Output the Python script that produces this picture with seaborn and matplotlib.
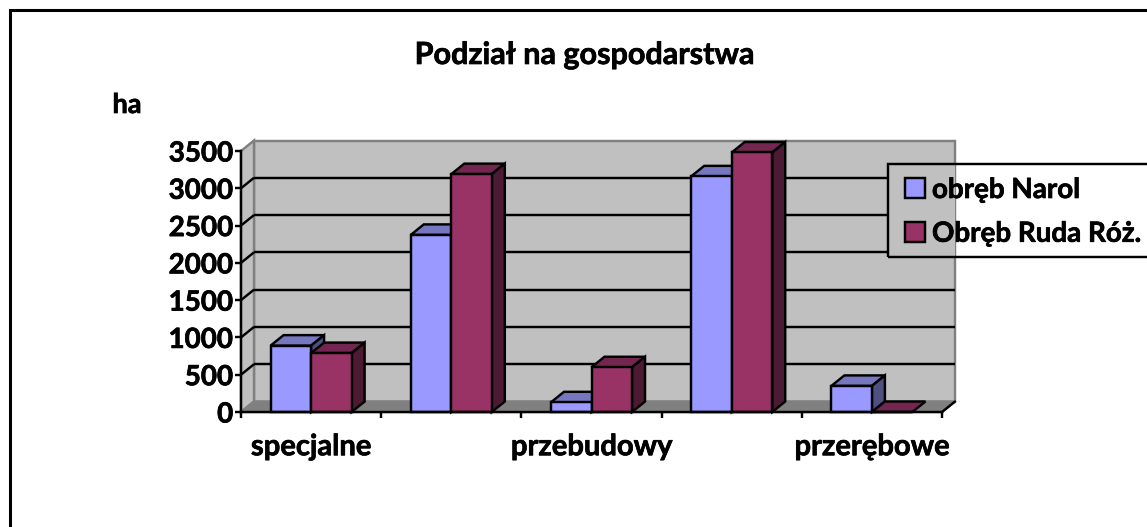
import matplotlib
matplotlib.use("Agg")
import matplotlib.pyplot as plt
import matplotlib.patheffects as pe
from matplotlib.lines import Line2D
from matplotlib.patches import Polygon, Rectangle
import pandas as pd
import seaborn as sns

categories = ["specjalne", "kat2", "przebudowy", "kat4", "przerębowe"]
tick_labels = ["specjalne", "", "przebudowy", "", "przerębowe"]
series_names = ["obręb Narol", "Obręb Ruda Róż."]
narol = [890, 2375, 130, 3160, 350]
ruda = [790, 3190, 600, 3480, 0]
y_ticks = [0, 500, 1000, 1500, 2000, 2500, 3000, 3500]

W, H, DPI = 1147, 527, 100
FS = 20
BLACK = "#000000"
WALL = "#C0C0C0"
WALL_EDGE = "#808080"
FRONT = ["#9999FF", "#993366"]
TOP = ["#7777C0", "#732650"]
SIDE = ["#505080", "#4D1A33"]
LW = 1.75
HEAVY = [pe.withStroke(linewidth=0.5, foreground=BLACK)]

sns.set_theme(style="white")
plt.rcParams["font.family"] = ["Lato", "DejaVu Sans"]
plt.rcParams["font.weight"] = "bold"

def fx(px): return px / W
def fy(py): return 1 - py / H

fig = plt.figure(figsize=(W / DPI, H / DPI), dpi=DPI, facecolor="white")
# outer chart border: only its top and left edges fall inside the picture
fig.add_artist(Line2D([fx(10), fx(10), 1], [0, fy(9.5), fy(9.5)], transform=fig.transFigure,
                      color=BLACK, lw=2.2, solid_joinstyle="miter"))

L, R, T, B = 241, 942, 151, 412
ax = fig.add_axes([fx(L), fy(B), fx(R - L), (B - T) / H])
ax.set_facecolor("none")

df = pd.DataFrame({
    "cat": categories * 2,
    "val": narol + ruda,
    "series": [series_names[0]] * 5 + [series_names[1]] * 5,
})
sns.barplot(data=df, x="cat", y="val", hue="series", palette=FRONT, saturation=1,
            width=0.578, gap=0, edgecolor=BLACK, linewidth=LW, legend=False, ax=ax)
ax.set_xlim(-0.5, 4.5)
ax.set_ylim(0, 3500)

# depth of the pseudo-3D projection, in data units
DX = 13 / ((R - L) / 5)
DY = 10.5 / ((B - T) / 3500)
x0, x1 = -0.5, 4.5
ytop = y_ticks[-1]

def poly(pts, fc, ec, z, lw=LW):
    ax.add_patch(Polygon(pts, closed=True, fc=fc, ec=ec, lw=lw, zorder=z,
                         clip_on=False, joinstyle="miter"))

bars = [b for b in ax.patches if isinstance(b, Rectangle)][:10]

# walls and floor
poly([(x0 + DX, DY), (x1 + DX, DY), (x1 + DX, ytop + DY), (x0 + DX, ytop + DY)], WALL, WALL_EDGE, 0.1)
poly([(x0, 0), (x0 + DX, DY), (x0 + DX, ytop + DY), (x0, ytop)], WALL, WALL_EDGE, 0.1)
poly([(x0, 0), (x1, 0), (x1 + DX, DY), (x0 + DX, DY)], WALL_EDGE, WALL_EDGE, 0.15)

# gridlines on the back and side wall
for v in y_ticks[1:-1]:
    ax.plot([x0 + DX, x1 + DX], [v + DY, v + DY], color=BLACK, lw=LW, zorder=0.2,
            clip_on=False, solid_capstyle="butt")
    ax.plot([x0, x0 + DX], [v, v + DY], color=BLACK, lw=LW, zorder=0.2,
            clip_on=False, solid_capstyle="butt")
ax.plot([x1, x1 + DX], [0, DY], color=BLACK, lw=LW, zorder=0.3, clip_on=False)

# 3D faces for each bar
for i, b in enumerate(bars):
    s = i // 5
    c = i % 5
    z = 2 + c + s * 0.3
    xa, xb = b.get_x(), b.get_x() + b.get_width()
    h = b.get_height()
    b.set_zorder(z + 0.02)
    b.set_clip_on(False)
    b.set_joinstyle("miter")
    poly([(xa, h), (xb, h), (xb + DX, h + DY), (xa + DX, h + DY)], TOP[s], BLACK, z)
    if h > 0:
        poly([(xb, 0), (xb + DX, DY), (xb + DX, h + DY), (xb, h)], SIDE[s], BLACK, z + 0.01)

# axes, ticks, labels
for name, sp in ax.spines.items():
    sp.set_visible(name in ("left", "bottom"))
    sp.set_color(BLACK)
    sp.set_linewidth(LW)
    sp.set_zorder(20)
ax.set_yticks(y_ticks)
ax.set_yticklabels([str(v) for v in y_ticks], fontsize=FS, fontweight="bold", color=BLACK,
                   path_effects=HEAVY)
ax.set_xticks([i - 0.5 for i in range(6)])
ax.set_xticklabels([])
ax.set_xticks(range(5), minor=True)
ax.set_xticklabels(tick_labels, minor=True, fontsize=21, fontweight="bold", color=BLACK,
                   path_effects=HEAVY)
ax.tick_params(axis="y", length=4.5, width=LW, color=BLACK, pad=1, left=True)
ax.tick_params(axis="x", which="major", length=4.5, width=LW, color=BLACK, bottom=True)
ax.tick_params(axis="x", which="minor", length=0, pad=16)
ax.set_xlabel("")
ax.set_ylabel("")

fig.text(fx(584), fy(55), "Podział na gospodarstwa", ha="center", va="center",
         fontsize=22, fontweight="bold", color=BLACK, path_effects=HEAVY)
fig.text(fx(127), fy(105), "ha", ha="center", va="center",
         fontsize=19.5, fontweight="bold", color=BLACK, path_effects=HEAVY)

# legend box: transparent on the wall, hiding the gridlines behind it
LX, LT, LB = 888, 164, 257
wall_right = ax.transData.transform((x1 + DX, 0))[0]
fig.add_artist(Rectangle((fx(LX), fy(LB)), fx(wall_right - LX), fy(LT) - fy(LB),
                         transform=fig.transFigure, fc=WALL, ec="none", zorder=5))
fig.add_artist(Rectangle((fx(LX), fy(LB)), fx(W + 10 - LX), fy(LT) - fy(LB),
                         transform=fig.transFigure, fc="none", ec=BLACK, lw=LW, zorder=6))
handles = [Rectangle((0, 0), 1, 1, fc=FRONT[k], ec=BLACK, lw=LW) for k in range(2)]
leg = fig.legend(handles, series_names, loc="upper left",
                 bbox_to_anchor=(fx(905), fy(177)), bbox_transform=fig.transFigure,
                 frameon=False, fontsize=20, borderpad=0, borderaxespad=0,
                 handlelength=0.72, handleheight=0.72, handletextpad=0.25, labelspacing=0.64)
leg.set_zorder(7)
for t in leg.get_texts():
    t.set_fontweight("bold")
    t.set_color(BLACK)
    t.set_path_effects(HEAVY)

fig.savefig("out.png", dpi=DPI)
